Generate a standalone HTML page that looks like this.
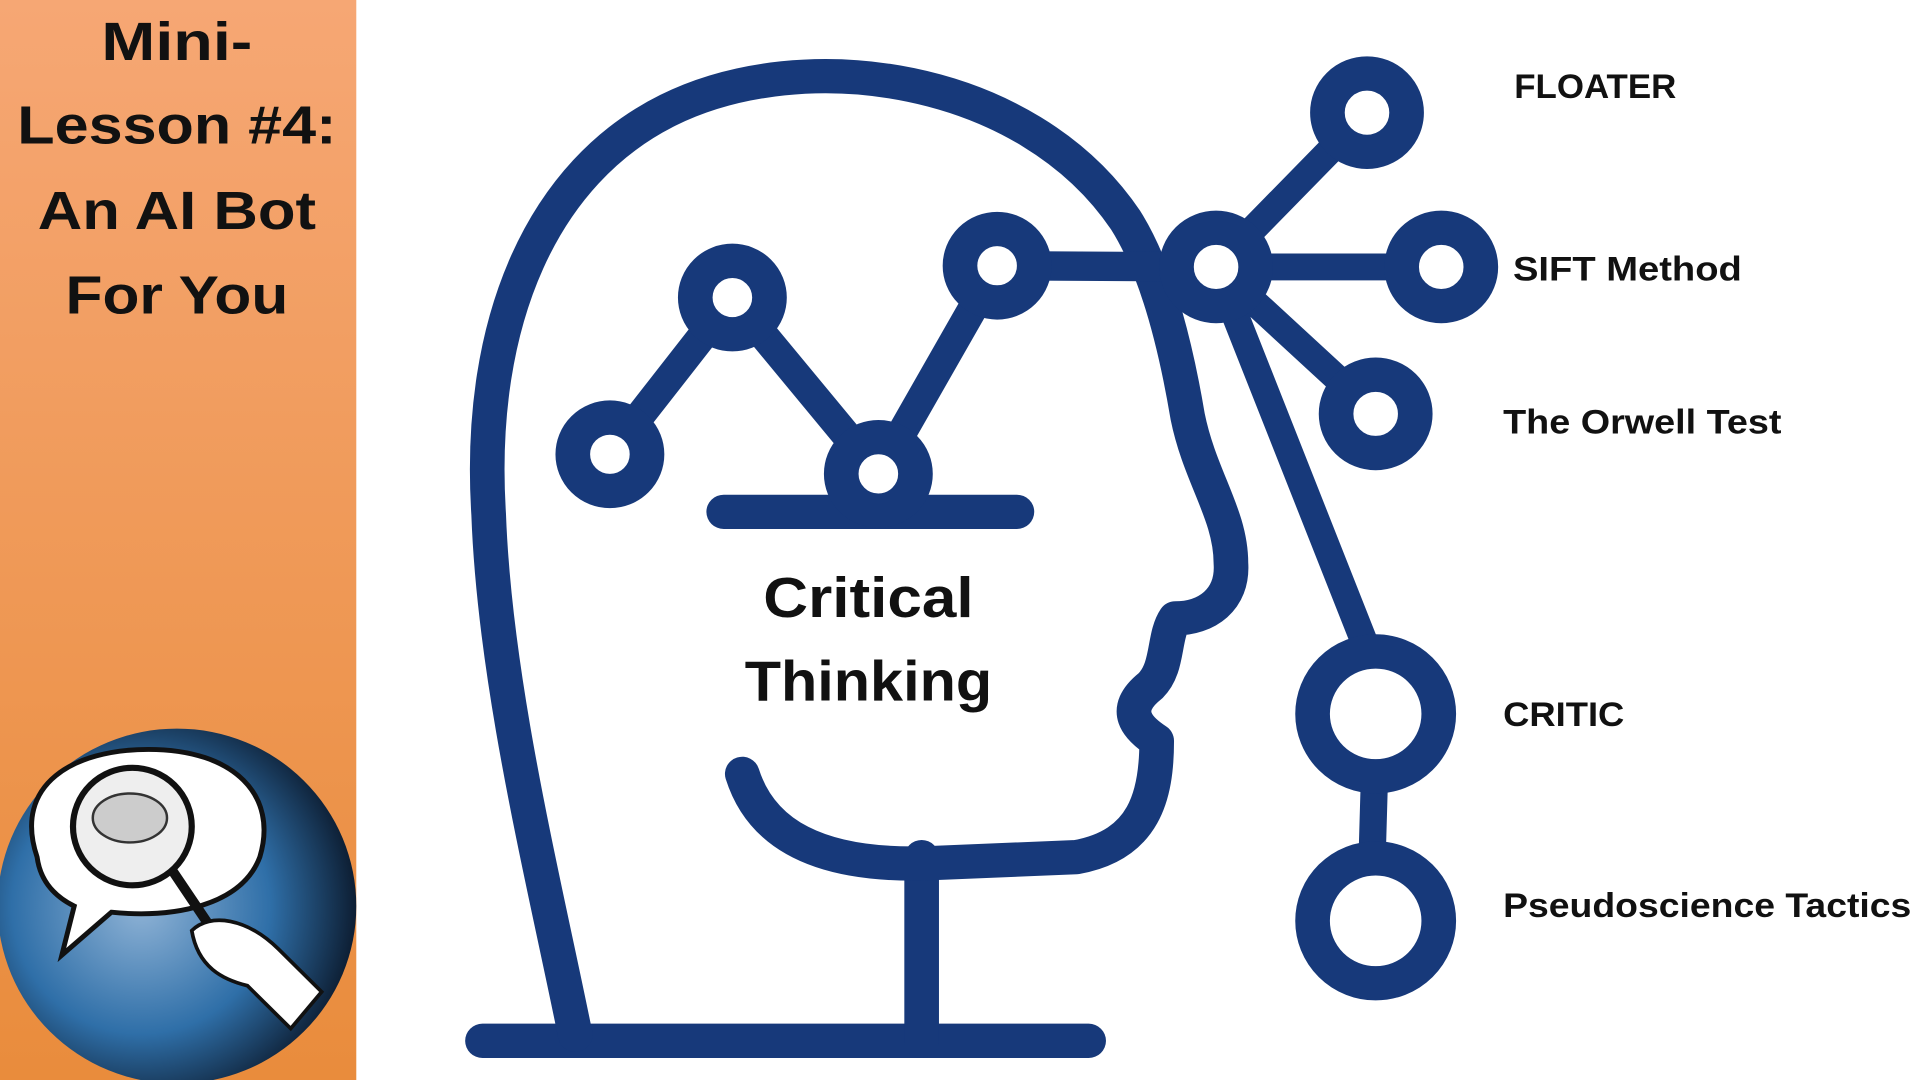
<!DOCTYPE html>
<html><head><meta charset="utf-8"><style>
html,body{margin:0;padding:0;background:#fff;width:1920px;height:1080px;overflow:hidden}
svg{display:block}
text{font-family:"Liberation Sans",sans-serif;font-weight:bold}
</style></head><body>
<svg width="1920" height="1080" viewBox="0 0 1552 882" preserveAspectRatio="none" xmlns="http://www.w3.org/2000/svg">
<defs>
<linearGradient id="og" x1="0" y1="0" x2="0" y2="1">
<stop offset="0" stop-color="#f6a774"/><stop offset="1" stop-color="#e98c3c"/>
</linearGradient>
<radialGradient id="bg" cx="0.4" cy="0.5" r="0.6">
<stop offset="0" stop-color="#8fb3d6"/><stop offset="0.6" stop-color="#2f6fa8"/><stop offset="1" stop-color="#0d1e33"/>
</radialGradient>
</defs>
<rect x="0" y="0" width="288" height="882" fill="url(#og)"/>
<g font-size="44" text-anchor="middle" fill="#111">
<text x="143" y="49" textLength="122" lengthAdjust="spacingAndGlyphs">Mini-</text>
<text x="143" y="117" textLength="258" lengthAdjust="spacingAndGlyphs">Lesson #4:</text>
<text x="143" y="187" textLength="225" lengthAdjust="spacingAndGlyphs">An AI Bot</text>
<text x="143" y="256" textLength="180" lengthAdjust="spacingAndGlyphs">For You</text>
</g>
<circle cx="143" cy="740" r="145" fill="url(#bg)"/>
<path d="M30 700 C10 640 60 612 120 612 C190 612 225 650 210 700 C195 740 140 750 90 745 L50 780 L60 740 C40 730 32 715 30 700Z" fill="#fff" stroke="#111" stroke-width="4"/>
<circle cx="107" cy="675" r="48" fill="#eee" stroke="#111" stroke-width="5"/>
<ellipse cx="105" cy="668" rx="30" ry="20" fill="#ccc" stroke="#333" stroke-width="2"/>
<path d="M140 712 L172 760" stroke="#111" stroke-width="8"/>
<path d="M155 760 C170 745 200 750 225 775 L260 810 L235 840 L200 805 C180 800 160 790 155 760Z" fill="#fff" stroke="#111" stroke-width="3"/>
<g fill="none" stroke="#17397a" stroke-linecap="round" stroke-linejoin="round">
<path d="M390 850 H880" stroke-width="28"/>
<path d="M745 700 V850" stroke-width="28"/>
<path d="M465 845 C440 720 400 560 395 420 C385 260 440 140 540 90 C650 35 830 60 910 180 C935 220 950 280 960 340 C970 390 995 420 995 460 C997 490 975 505 950 505 C940 520 945 545 930 560 C905 580 920 595 935 605 C935 650 925 690 870 700 L750 705 C660 708 615 680 600 632" stroke-width="28"/>
<path d="M585 418 H822" stroke-width="28"/>
<path d="M493 371 L592 243 L710 387 L806 217 L983 218" stroke-width="24"/>
<path d="M983 218 L1105 92 M983 218 L1165 218 M983 218 L1112 338 M983 218 L1105 530 M1112 600 L1108 740" stroke-width="22"/>
</g>
<g fill="#fff" stroke="#17397a" stroke-width="28">
<circle cx="493" cy="371" r="30"/>
<circle cx="592" cy="243" r="30"/>
<circle cx="710" cy="387" r="30"/>
<circle cx="806" cy="217" r="30"/>
<circle cx="983" cy="218" r="32"/>
<circle cx="1105" cy="92" r="32"/>
<circle cx="1165" cy="218" r="32"/>
<circle cx="1112" cy="338" r="32"/>
<circle cx="1112" cy="583" r="51"/>
<circle cx="1112" cy="752" r="51"/>
</g>
<g font-size="46" text-anchor="middle" fill="#111">
<text x="702" y="504" textLength="170" lengthAdjust="spacingAndGlyphs">Critical</text>
<text x="702" y="572" textLength="200" lengthAdjust="spacingAndGlyphs">Thinking</text>
</g>
<g font-size="28" fill="#111">
<text x="1224" y="80" textLength="131" lengthAdjust="spacingAndGlyphs">FLOATER</text>
<text x="1223" y="229" textLength="185" lengthAdjust="spacingAndGlyphs">SIFT Method</text>
<text x="1215" y="354" textLength="225" lengthAdjust="spacingAndGlyphs">The Orwell Test</text>
<text x="1215" y="593" textLength="98" lengthAdjust="spacingAndGlyphs">CRITIC</text>
<text x="1215" y="749" textLength="330" lengthAdjust="spacingAndGlyphs">Pseudoscience Tactics</text>
</g>
</svg>
</body></html>
